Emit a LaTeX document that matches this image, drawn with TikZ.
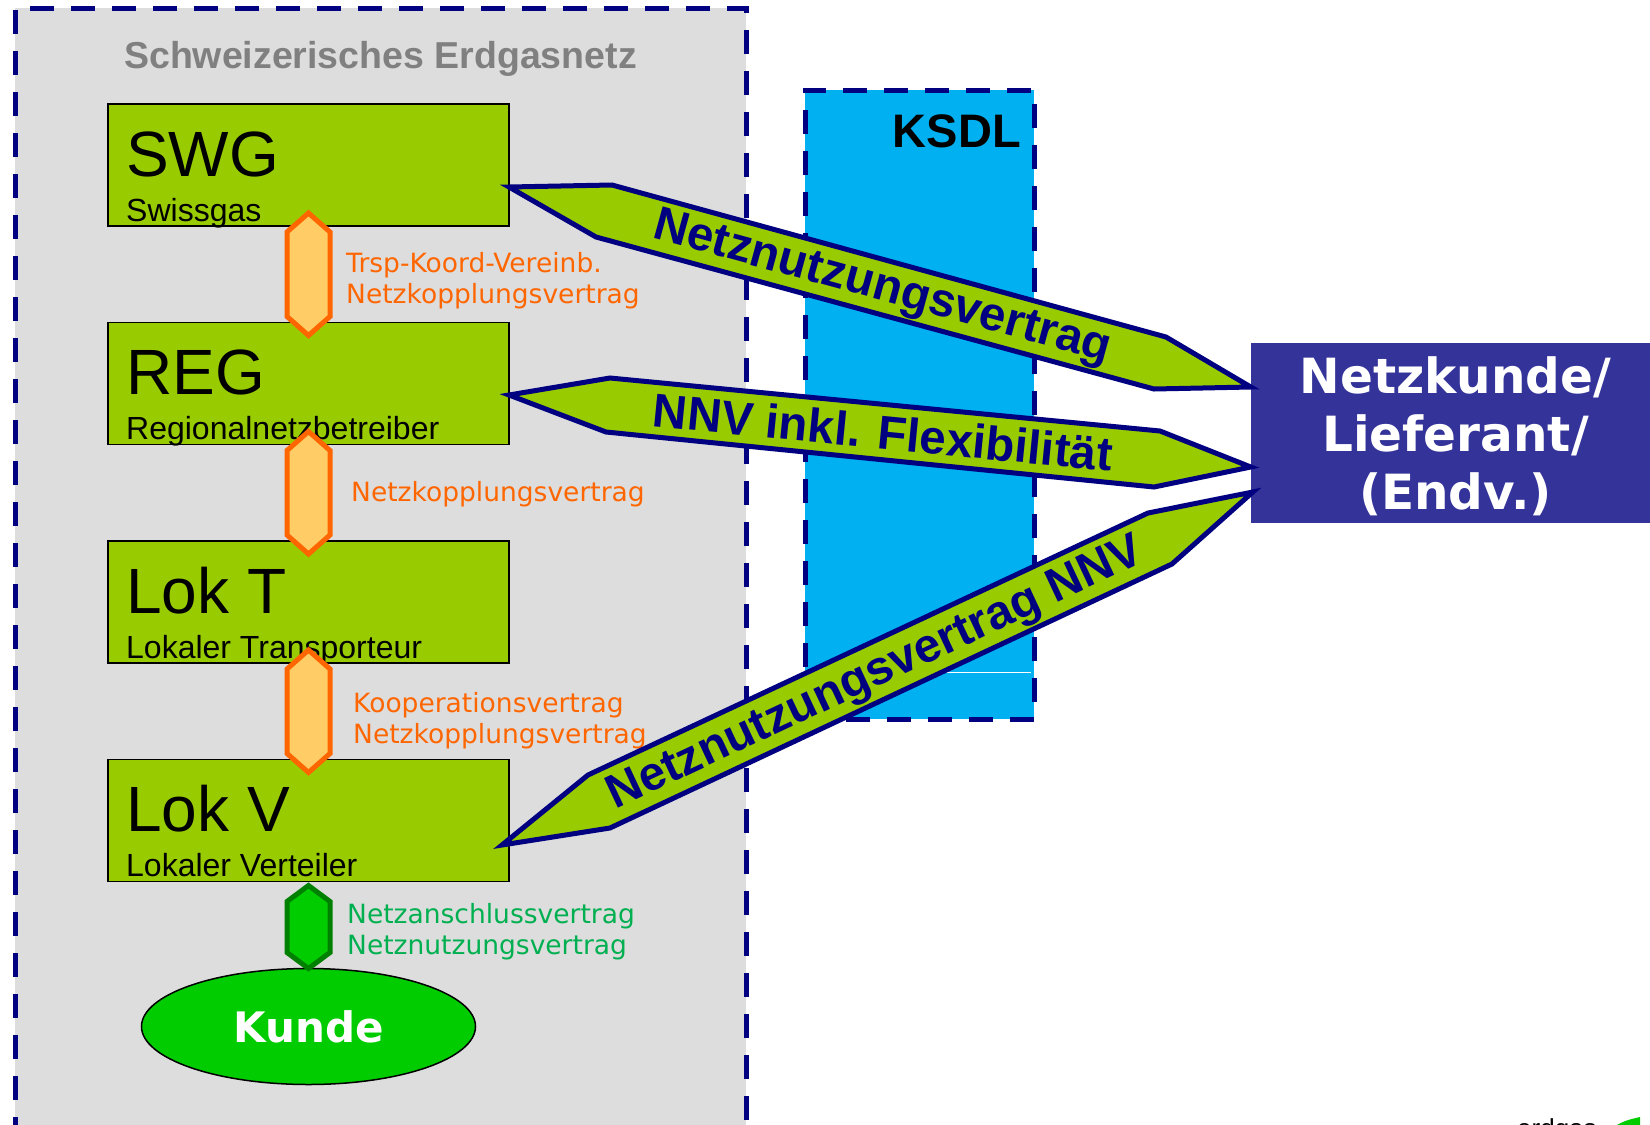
\documentclass[tikz,border=0pt]{standalone}
\usepackage{fontspec}
\setmainfont{Liberation Sans}
\newfontfamily\verdana{DejaVu Sans}
\usetikzlibrary{positioning,calc,shapes.geometric}

\definecolor{netzblau}{RGB}{0,0,128}
\definecolor{netzgrau}{RGB}{221,221,221}
\definecolor{boxgruen}{RGB}{153,204,0}
\definecolor{vorange}{RGB}{255,102,0}
\definecolor{hellorange}{RGB}{255,204,102}
\definecolor{kundegruen}{RGB}{0,204,0}
\definecolor{dunkelgruen}{RGB}{0,128,0}
\definecolor{textgruen}{RGB}{0,176,80}
\definecolor{ksdlblau}{RGB}{0,176,240}
\definecolor{kundeblau}{RGB}{51,51,153}
\definecolor{titelgrau}{RGB}{128,128,128}

\newcommand{\schrift}[2]{\fontsize{#1}{#2}\selectfont}
% hexagon between two boxes: [style]{top}{bottom}{slant}
\newcommand{\hexlink}[4][hexorange]{%
	\draw[#1] (#2) -- ($(#2)+(21.5,#4)$) -- ($(#3)+(21.5,-#4)$) -- (#3)
		-- ($(#3)+(-21.5,-#4)$) -- ($(#2)+(-21.5,#4)$) -- cycle;}

\tikzset{
	netzbox/.style={draw=netzblau, line width=5pt, dash pattern=on 24pt off 17pt,
		fill=netzgrau, inner sep=0pt, outer sep=0pt},
	ksdlbox/.style={netzbox, fill=ksdlblau},
	gasbox/.style={draw=black, line width=1.5pt, fill=boxgruen, minimum width=401pt,
		minimum height=122pt, inner sep=0pt, outer sep=0pt},
	boxtitel/.style={anchor=base west, inner sep=0pt, font=\schrift{64}{64}},
	boxname/.style={anchor=base west, inner sep=0pt, font=\schrift{32}{32}},
	hexorange/.style={draw=vorange, fill=hellorange, line width=5pt},
	hexgruen/.style={draw=dunkelgruen, fill=kundegruen, line width=5pt},
	vlabel/.style={anchor=base west, inner sep=0pt, align=left, text=vorange,
		font=\verdana\schrift{26.5}{31}},
	glabel/.style={vlabel, text=textgruen},
	kunde/.style={ellipse, draw=black, line width=1.5pt, fill=kundegruen, text=white,
		font=\verdana\bfseries\schrift{42}{42}, minimum width=334pt,
		minimum height=116pt, inner sep=0pt, outer sep=0pt},
	kundenbox/.style={fill=kundeblau, inner sep=0pt, minimum width=409pt, minimum height=180pt},
	kundentext/.style={text=white, align=center, inner sep=0pt,
		font=\verdana\bfseries\schrift{48.5}{58}},
	banner/.style={draw=netzblau, fill=boxgruen, line width=5pt, line join=miter},
	bannertext/.style={text=netzblau, inner sep=0pt, font=\bfseries\schrift{47.5}{47.5}}
}

\begin{document}
\begin{tikzpicture}[x=1pt, y=-1pt, node distance=96.5pt]
	\useasboundingbox (0,0) rectangle (1650,1125);

	% Areas
	\node[netzbox, minimum width=731pt, minimum height=1119pt] (netz) at (380.5,567.5) {};
	\node[anchor=base, inner sep=0pt, text=titelgrau, font=\bfseries\schrift{37.5}{38}]
		(titel) at ([yshift=-60pt]netz.north) {Schweizerisches Erdgasnetz};
	\node[ksdlbox, minimum width=229pt, minimum height=629pt] (ksdl) at (919.5,404.5) {};
	\node[anchor=base east, inner sep=0pt, font=\bfseries\schrift{47}{47}]
		(ksdlt) at ([xshift=-13pt, yshift=-57pt]ksdl.north east) {KSDL};
	\draw[white, line width=1pt] (900,672) -- (1031,672);

	% Define nodes
	\node[gasbox] (swg) at (308.5,165) {};
	\node[gasbox, below=of swg] (reg) {};
	\node[gasbox, below=of reg] (lokt) {};
	\node[gasbox, below=of lokt] (lokv) {};
	\node[kunde, below=87pt of lokv] (kunde) {Kunde};
	\node[kundenbox] (nk) at (1455.5,433) {};
	\node[kundentext] (nkt) at ([yshift=-3pt]nk.center) {Netzkunde/\\Lieferant/\\(Endv.)};

	\node[boxtitel] (swgt) at ([xshift=18pt, yshift=-72pt]swg.north west) {SWG};
	\node[boxname] (swgn) at ([xshift=18pt, yshift=-117pt]swg.north west) {Swissgas};
	\node[boxtitel] (regt) at ([xshift=18pt, yshift=-72pt]reg.north west) {REG};
	\node[boxname] (regn) at ([xshift=18pt, yshift=-117pt]reg.north west) {Regionalnetzbetreiber};
	\node[boxtitel] (loktt) at ([xshift=18pt, yshift=-72pt]lokt.north west) {Lok T};
	\node[boxname] (loktn) at ([xshift=18pt, yshift=-117pt]lokt.north west) {Lokaler Transporteur};
	\node[boxtitel] (lokvt) at ([xshift=18pt, yshift=-72pt]lokv.north west) {Lok V};
	\node[boxname] (lokvn) at ([xshift=18pt, yshift=-117pt]lokv.north west) {Lokaler Verteiler};

	% Contracts inside the network
	\coordinate (h1o) at ([yshift=13pt]swg.south);
	\coordinate (h1u) at ([yshift=-13pt]reg.north);
	\coordinate (h2o) at ([yshift=13pt]reg.south);
	\coordinate (h2u) at ([yshift=-13pt]lokt.north);
	\coordinate (h3o) at ([yshift=13pt]lokt.south);
	\coordinate (h3u) at ([yshift=-13pt]lokv.north);
	\coordinate (h4o) at ([yshift=-4pt]lokv.south);
	\hexlink{h1o}{h1u}{19}
	\hexlink{h2o}{h2u}{19}
	\hexlink{h3o}{h3u}{19}
	\hexlink[hexgruen]{h4o}{kunde.north}{16}

	\node[vlabel] (v1) at (346,303) {Trsp-Koord-Vereinb.\\Netzkopplungsvertrag};
	\node[vlabel] (v2) at (351,501) {Netzkopplungsvertrag};
	\node[vlabel] (v3) at (353,743) {Kooperationsvertrag\\Netzkopplungsvertrag};
	\node[glabel] (v4) at (347,954) {Netzanschlussvertrag\\Netznutzungsvertrag};

	% Contracts with the Netzkunde
	\coordinate (a1l) at ([yshift=-22pt]swg.east);
	\coordinate (a1r) at ([yshift=46pt]nk.west);
	\coordinate (a2l) at ([yshift=-11.5pt]reg.east);
	\coordinate (a2r) at ([yshift=-34pt]nk.west);
	\coordinate (a3l) at ([xshift=-7pt, yshift=-24.5pt]lokv.east);
	\coordinate (a3r) at ([xshift=2pt, yshift=-59pt]nk.west);
	\draw[banner] (a1l) -- (612,185) -- (1166,337) -- (a1r) -- (1154,389) -- (596,237) -- cycle;
	\draw[banner] (a2l) -- (610,378) -- (1160,431) -- (a2r) -- (1154,487) -- (606,432) -- cycle;
	\draw[banner] (a3l) -- (588,775) -- (1148,513) -- (a3r) -- (1172,564) -- (610,828) -- cycle;
	\node[bannertext, rotate=-15.3] (b1) at (882,289) {Netznutzungsvertrag};
	\node[bannertext, rotate=-5.6] (b2) at (883,432) {NNV inkl. Flexibilität};
	\node[bannertext, rotate=25.1] (b3) at (876,675) {Netznutzungsvertrag NNV};

	% Logo, cut by the page
	\node[anchor=base west, inner sep=0pt, font=\schrift{26}{26}] (logo) at (1517,1137) {erdgas};
	\fill[kundegruen] (1612,1128) .. controls (1624,1120) and (1632,1119) .. (1640,1117) -- (1640,1128) -- cycle;
\end{tikzpicture}
\end{document}
